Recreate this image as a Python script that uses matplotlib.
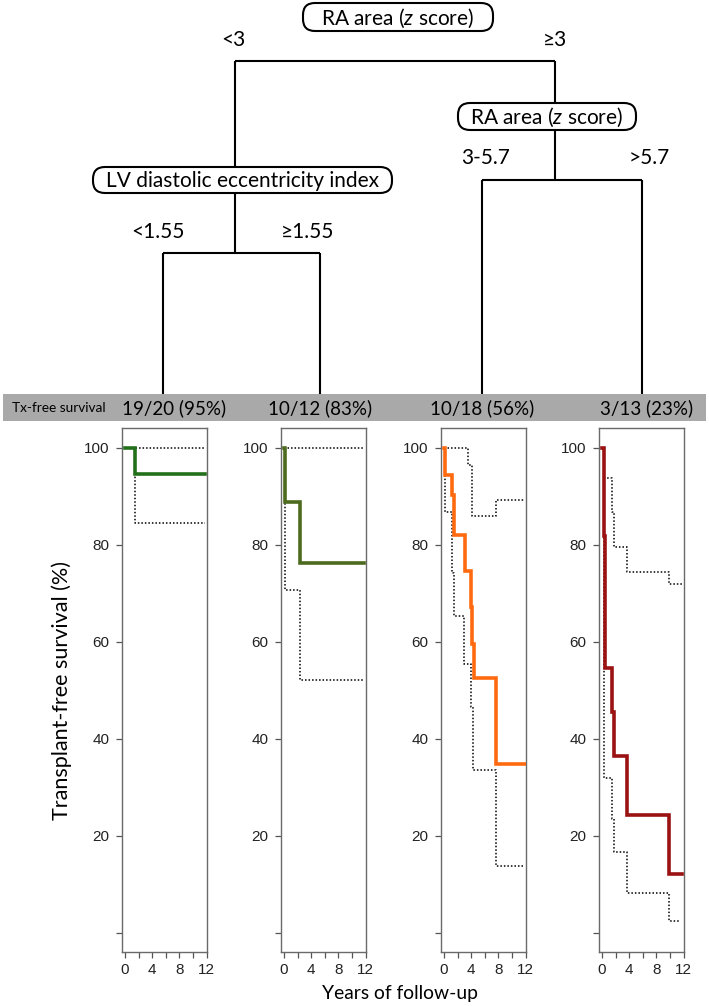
import matplotlib
matplotlib.use("Agg")
import matplotlib.pyplot as plt
from matplotlib.patches import FancyBboxPatch, Rectangle

# ---------------- data ----------------
group_counts = ["19/20 (95%)", "10/12 (83%)", "10/18 (56%)", "3/13 (23%)"]
group_colors = ["#23701a", "#4d6b1e", "#ff6a10", "#9a1212"]

# Kaplan-Meier estimates (years, % transplant-free)
km1_t = [0, 1.5, 11.7]
km1_s = [100, 94.7, 94.7]
lo1_t = [0, 1.5, 11.7]
lo1_s = [100, 84.5, 84.5]
hi1_t = [0, 11.7]
hi1_s = [100, 100]

km2_t = [0, 0.2, 2.35, 11.7]
km2_s = [100, 88.9, 76.2, 76.2]
lo2_t = [0, 0.2, 2.35, 11.7]
lo2_s = [100, 70.7, 52.2, 52.2]
hi2_t = [0, 11.7]
hi2_s = [100, 100]

km3_t = [0, 0.2, 1.1, 1.47, 3.14, 4.0, 4.15, 4.4, 7.7, 11.9]
km3_s = [100, 94.5, 90.2, 82.0, 74.5, 67.2, 59.5, 52.6, 34.7, 34.7]
lo3_t = [0, 0.15, 1.1, 1.5, 3.0, 3.9, 4.3, 7.6, 11.6]
lo3_s = [100, 86.8, 74.1, 65.3, 55.5, 46.5, 33.5, 13.8, 13.8]
hi3_t = [0, 3.45, 4.1, 7.6, 11.9]
hi3_s = [100, 96.4, 86.0, 89.3, 89.3]

km4_t = [0, 0.25, 0.45, 1.4, 1.8, 3.6, 9.8, 11.75]
km4_s = [100, 81.8, 54.5, 45.5, 36.4, 24.2, 12.1, 12.1]
lo4_t = [0, 0.35, 1.4, 1.75, 3.6, 9.8, 11.5]
lo4_s = [100, 31.9, 23.4, 16.7, 8.1, 2.3, 2.3]
hi4_t = [0, 0.35, 1.5, 1.75, 3.6, 9.85, 11.75]
hi4_s = [100, 93.7, 86.8, 79.5, 74.3, 72.0, 72.0]

km_t = [km1_t, km2_t, km3_t, km4_t]
km_s = [km1_s, km2_s, km3_s, km4_s]
lo_t = [lo1_t, lo2_t, lo3_t, lo4_t]
lo_s = [lo1_s, lo2_s, lo3_s, lo4_s]
hi_t = [hi1_t, hi2_t, hi3_t, hi4_t]
hi_s = [hi1_s, hi2_s, hi3_s, hi4_s]

y_ticks = [0, 20, 40, 60, 80, 100]
y_ticklabels = ["", "20", "40", "60", "80", "100"]
x_ticks = [0, 2, 4, 6, 8, 10, 12]
x_ticklabels = ["0", "", "4", "", "8", "", "12"]

root_label = r"RA area ($\mathit{z}$ score)"
node_left_label = "LV diastolic eccentricity index"
node_right_label = r"RA area ($\mathit{z}$ score)"
split_root = ["<3", "\u22653"]
split_left = ["<1.55", "\u22651.55"]
split_right = ["3-5.7", ">5.7"]

# ---------------- style ----------------
TREE_FONT = ["Lato", "DejaVu Sans"]
NUM_FONT = ["Liberation Sans", "DejaVu Sans"]
plt.rcParams["mathtext.fontset"] = "custom"
plt.rcParams["mathtext.rm"] = "Lato"
plt.rcParams["mathtext.it"] = "Lato:italic"

W, H = 709, 1006
fig = plt.figure(figsize=(W / 100, H / 100), dpi=100)
fig.patch.set_facecolor("white")

bg = fig.add_axes([0, 0, 1, 1])
bg.set_xlim(0, W)
bg.set_ylim(H, 0)
bg.axis("off")
bg.set_zorder(0)

LW_TREE = 1.5
def line(x0, y0, x1, y1):
    bg.plot([x0, x1], [y0, y1], color="black", lw=LW_TREE, solid_capstyle="butt")

def rbox(l, t, r, b, text, size=15):
    p = FancyBboxPatch((l, t), r - l, b - t,
                       boxstyle="round,pad=0,rounding_size=12",
                       fc="white", ec="black", lw=1.5, zorder=3)
    bg.add_patch(p)
    bg.text((l + r) / 2, (t + b) / 2 + 1, text, ha="center", va="center",
            fontsize=size, family=TREE_FONT, zorder=4)

def lab(x, y, s, size=15):
    bg.text(x, y, s, ha="center", va="center", fontsize=size, family=TREE_FONT)

BAND_TOP, BAND_BOT = 394, 421
# root split
line(235, 61, 555, 61)
line(235, 61, 235, 167)
line(555, 61, 555, 103)
rbox(303, 3, 493, 31, root_label)
lab(233, 40, split_root[0])
lab(555, 40, split_root[1])
# right node
rbox(458, 103, 636, 130, node_right_label)
line(555, 130, 555, 180)
line(482, 180, 642, 180)
line(482, 180, 482, BAND_TOP)
line(642, 180, 642, BAND_TOP)
lab(486, 158, split_right[0])
lab(649, 158, split_right[1])
# left node
rbox(93, 167, 392, 193, node_left_label)
line(235, 193, 235, 253)
line(163, 253, 320, 253)
line(163, 253, 163, BAND_TOP)
line(320, 253, 320, BAND_TOP)
lab(158, 232, split_left[0])
lab(308, 232, split_left[1])

# gray band
bg.add_patch(Rectangle((3, BAND_TOP), 703, BAND_BOT - BAND_TOP, fc="#a9a9a9", ec="none"))
bg.text(12, (BAND_TOP + BAND_BOT) / 2, "Tx-free survival", ha="left", va="center",
        fontsize=9.8, family=TREE_FONT)
count_x = [174, 320, 482, 647]
for cx, s in zip(count_x, group_counts):
    bg.text(cx, (BAND_TOP + BAND_BOT) / 2 + 1, s, ha="center", va="center",
            fontsize=13.5, family=TREE_FONT)

# ---------------- panels ----------------
panel_left = [122, 281, 441, 599]
P_W, P_TOP, P_BOT = 85, 428, 952

for i in range(4):
    l = panel_left[i]
    ax = fig.add_axes([l / W, 1 - P_BOT / H, P_W / W, (P_BOT - P_TOP) / H])
    ax.set_zorder(2)
    ax.set_facecolor("white")
    ax.step(hi_t[i], hi_s[i], where="post", color="black", lw=1.1,
            linestyle=(0, (1.0, 1.3)), zorder=2)
    ax.step(lo_t[i], lo_s[i], where="post", color="black", lw=1.1,
            linestyle=(0, (1.0, 1.3)), zorder=2)
    ax.step(km_t[i], km_s[i], where="post", color=group_colors[i], lw=2.6,
            solid_joinstyle="miter", zorder=3)
    ax.set_xlim(-0.45, 12.05)
    ax.set_ylim(-4, 104.1)
    ax.set_yticks(y_ticks)
    ax.set_yticklabels(y_ticklabels, family=NUM_FONT, fontsize=11)
    ax.set_xticks(x_ticks)
    ax.set_xticklabels(x_ticklabels, family=NUM_FONT, fontsize=11)
    ax.tick_params(axis="y", length=4.5, width=0.9, pad=4.5, colors="#555555",
                   labelcolor="#222222")
    ax.tick_params(axis="x", length=4, width=0.9, pad=4, colors="#555555",
                   labelcolor="#222222")
    for sp in ax.spines.values():
        sp.set_color("#6a6a6a")
        sp.set_linewidth(1.0)

fig.text(400 / W, 1 - 993 / H, "Years of follow-up", ha="center", va="center",
         fontsize=13.9, family=TREE_FONT)
fig.text(62 / W, 1 - 690 / H, "Transplant-free survival (%)", ha="center",
         va="center", rotation=90, fontsize=15.5, family=TREE_FONT)

fig.savefig("out.png", dpi=100)
